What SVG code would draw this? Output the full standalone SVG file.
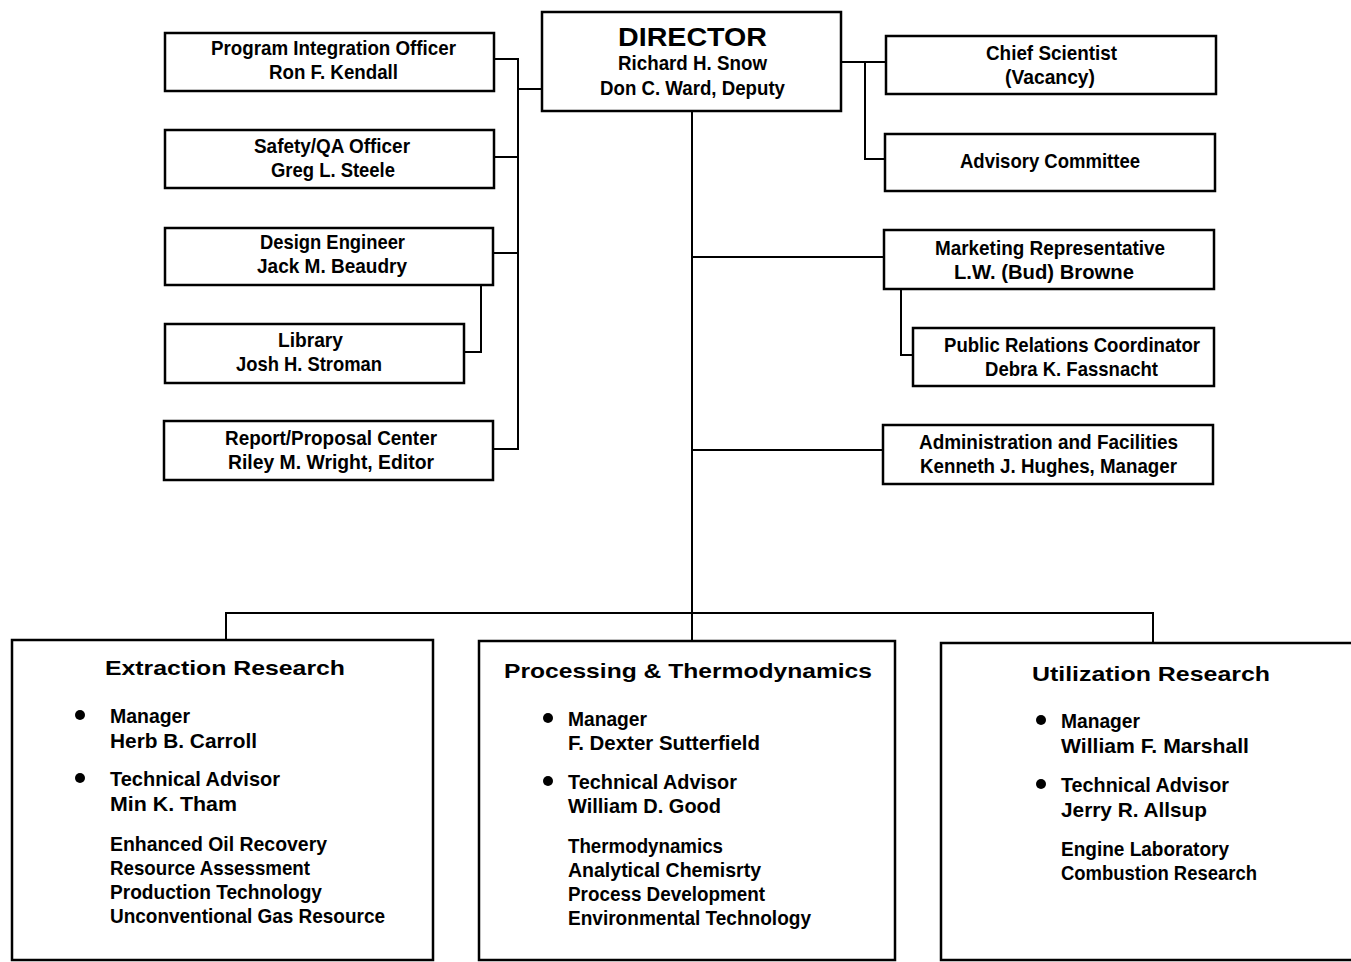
<svg xmlns="http://www.w3.org/2000/svg" width="1351" height="962" viewBox="0 0 1351 962">
<style>
.box{fill:#fff;stroke:#000;stroke-width:2.5}
.ln{fill:none;stroke:#000;stroke-width:2}
text{font-family:"Liberation Sans Narrow","Liberation Sans",Arial,sans-serif;font-weight:bold;font-size:21px;fill:#000}
.h{font-family:"Liberation Sans",Arial,sans-serif;font-size:21px}
.d{font-family:"Liberation Sans",Arial,sans-serif;font-size:25px}
</style>
<rect width="1351" height="962" fill="#fff"/>
<g id="connectors">
<path class="ln" d="M494 59H518V449H493M494 157H518M493 253H518M518 89H542"/>
<path class="ln" d="M481 285V352H464"/>
<path class="ln" d="M841 62H886M865 62V159H885"/>
<path class="ln" d="M692 111V641M692 257H884M692 450H883"/>
<path class="ln" d="M901 289V355H913"/>
<path class="ln" d="M226 640V613H1153V643"/>
</g>
<g id="director">
<rect class="box" x="542" y="12" width="299" height="99"/>
<text class="d" x="618" y="46" textLength="149" lengthAdjust="spacingAndGlyphs">DIRECTOR</text>
<text x="618" y="70" textLength="149" lengthAdjust="spacingAndGlyphs">Richard H. Snow</text>
<text x="600" y="95" textLength="185" lengthAdjust="spacingAndGlyphs">Don C. Ward, Deputy</text>
</g>
<g id="program">
<rect class="box" x="165" y="33" width="329" height="58"/>
<text x="211" y="55" textLength="245" lengthAdjust="spacingAndGlyphs">Program Integration Officer</text>
<text x="269" y="79" textLength="129" lengthAdjust="spacingAndGlyphs">Ron F. Kendall</text>
</g>
<g id="safety">
<rect class="box" x="165" y="130" width="329" height="58"/>
<text x="254" y="153" textLength="156" lengthAdjust="spacingAndGlyphs">Safety/QA Officer</text>
<text x="271" y="177" textLength="124" lengthAdjust="spacingAndGlyphs">Greg L. Steele</text>
</g>
<g id="design">
<rect class="box" x="165" y="228" width="328" height="57"/>
<text x="260" y="249" textLength="145" lengthAdjust="spacingAndGlyphs">Design Engineer</text>
<text x="257" y="273" textLength="150" lengthAdjust="spacingAndGlyphs">Jack M. Beaudry</text>
</g>
<g id="library">
<rect class="box" x="165" y="324" width="299" height="59"/>
<text x="278" y="347" textLength="65" lengthAdjust="spacingAndGlyphs">Library</text>
<text x="236" y="371" textLength="146" lengthAdjust="spacingAndGlyphs">Josh H. Stroman</text>
</g>
<g id="report">
<rect class="box" x="164" y="421" width="329" height="59"/>
<text x="225" y="445" textLength="212" lengthAdjust="spacingAndGlyphs">Report/Proposal Center</text>
<text x="228" y="469" textLength="206" lengthAdjust="spacingAndGlyphs">Riley M. Wright, Editor</text>
</g>
<g id="chief">
<rect class="box" x="886" y="36" width="330" height="58"/>
<text x="986" y="60" textLength="131" lengthAdjust="spacingAndGlyphs">Chief Scientist</text>
<text x="1005" y="84" textLength="90" lengthAdjust="spacingAndGlyphs">(Vacancy)</text>
</g>
<g id="advisory">
<rect class="box" x="885" y="134" width="330" height="57"/>
<text x="960" y="168" textLength="180" lengthAdjust="spacingAndGlyphs">Advisory Committee</text>
</g>
<g id="marketing">
<rect class="box" x="884" y="230" width="330" height="59"/>
<text x="935" y="255" textLength="230" lengthAdjust="spacingAndGlyphs">Marketing Representative</text>
<text x="954" y="279" textLength="180" lengthAdjust="spacingAndGlyphs">L.W. (Bud) Browne</text>
</g>
<g id="public">
<rect class="box" x="913" y="328" width="301" height="58"/>
<text x="944" y="352" textLength="256" lengthAdjust="spacingAndGlyphs">Public Relations Coordinator</text>
<text x="985" y="376" textLength="173" lengthAdjust="spacingAndGlyphs">Debra K. Fassnacht</text>
</g>
<g id="admin">
<rect class="box" x="883" y="425" width="330" height="59"/>
<text x="919" y="449" textLength="259" lengthAdjust="spacingAndGlyphs">Administration and Facilities</text>
<text x="920" y="473" textLength="257" lengthAdjust="spacingAndGlyphs">Kenneth J. Hughes, Manager</text>
</g>
<g id="extraction">
<rect class="box" x="12" y="640" width="421" height="320"/>
<text class="h" x="105" y="675" textLength="240" lengthAdjust="spacingAndGlyphs">Extraction Research</text>
<circle cx="80" cy="715" r="5"/><circle cx="80" cy="778" r="5"/>
<text x="110" y="723" textLength="80" lengthAdjust="spacingAndGlyphs">Manager</text>
<text x="110" y="748" textLength="147" lengthAdjust="spacingAndGlyphs">Herb B. Carroll</text>
<text x="110" y="786" textLength="170" lengthAdjust="spacingAndGlyphs">Technical Advisor</text>
<text x="110" y="811" textLength="127" lengthAdjust="spacingAndGlyphs">Min K. Tham</text>
<text x="110" y="851" textLength="217" lengthAdjust="spacingAndGlyphs">Enhanced Oil Recovery</text>
<text x="110" y="875" textLength="200" lengthAdjust="spacingAndGlyphs">Resource Assessment</text>
<text x="110" y="899" textLength="212" lengthAdjust="spacingAndGlyphs">Production Technology</text>
<text x="110" y="923" textLength="275" lengthAdjust="spacingAndGlyphs">Unconventional Gas Resource</text>
</g>
<g id="processing">
<rect class="box" x="479" y="641" width="416" height="319"/>
<text class="h" x="504" y="678" textLength="368" lengthAdjust="spacingAndGlyphs">Processing &amp; Thermodynamics</text>
<circle cx="548" cy="718" r="5"/><circle cx="548" cy="781" r="5"/>
<text x="568" y="726" textLength="79" lengthAdjust="spacingAndGlyphs">Manager</text>
<text x="568" y="750" textLength="192" lengthAdjust="spacingAndGlyphs">F. Dexter Sutterfield</text>
<text x="568" y="789" textLength="169" lengthAdjust="spacingAndGlyphs">Technical Advisor</text>
<text x="568" y="813" textLength="153" lengthAdjust="spacingAndGlyphs">William D. Good</text>
<text x="568" y="853" textLength="155" lengthAdjust="spacingAndGlyphs">Thermodynamics</text>
<text x="568" y="877" textLength="193" lengthAdjust="spacingAndGlyphs">Analytical Chemisrty</text>
<text x="568" y="901" textLength="197" lengthAdjust="spacingAndGlyphs">Process Development</text>
<text x="568" y="925" textLength="243" lengthAdjust="spacingAndGlyphs">Environmental Technology</text>
</g>
<g id="utilization">
<rect class="box" x="941" y="643" width="420" height="317"/>
<text class="h" x="1032" y="681" textLength="238" lengthAdjust="spacingAndGlyphs">Utilization Research</text>
<circle cx="1041" cy="720" r="5"/><circle cx="1041" cy="784" r="5"/>
<text x="1061" y="728" textLength="79" lengthAdjust="spacingAndGlyphs">Manager</text>
<text x="1061" y="753" textLength="188" lengthAdjust="spacingAndGlyphs">William F. Marshall</text>
<text x="1061" y="792" textLength="168" lengthAdjust="spacingAndGlyphs">Technical Advisor</text>
<text x="1061" y="817" textLength="146" lengthAdjust="spacingAndGlyphs">Jerry R. Allsup</text>
<text x="1061" y="856" textLength="168" lengthAdjust="spacingAndGlyphs">Engine Laboratory</text>
<text x="1061" y="880" textLength="196" lengthAdjust="spacingAndGlyphs">Combustion Research</text>
</g>
</svg>
